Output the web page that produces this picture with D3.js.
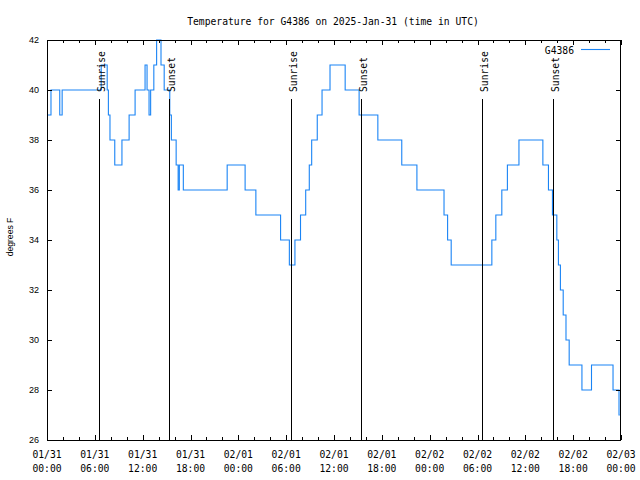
<!DOCTYPE html>
<html>
<head>
<meta charset="utf-8">
<script src="https://cdn.jsdelivr.net/npm/d3@7"></script>
<style>
  html, body { margin: 0; padding: 0; background: #fff; }
  svg { display: block; }
</style>
</head>
<body>
<svg id="chart" width="640" height="480"></svg>
<script>
// ---- Data (hours since 2025-01-31 00:00 UTC, temperature in °F) ----
const hours = [0.0, 0.5, 1.6, 1.9, 6.8, 7.55, 7.7, 7.9, 8.5, 9.4, 10.3, 11.05, 12.3, 12.55, 12.8, 13.0, 13.4, 13.75, 14.3, 14.7,
  15.4, 15.6, 16.2, 16.45, 16.6, 17.1, 22.6, 24.85, 26.2, 29.3, 30.4, 31.1, 31.8, 32.45, 32.9, 33.2, 33.9, 34.5, 35.5,
  37.4, 39.15, 41.5, 44.5, 46.4, 49.8, 50.25, 50.7, 55.8, 56.3, 57.05, 57.75, 59.2, 62.2, 62.9, 63.4, 63.95, 64.15,
  64.4, 64.75, 65.1, 65.5, 67.1, 68.3, 71.0, 71.75, 71.85];
const tempsF = [39, 40, 39, 40, 41, 40, 39, 38, 37, 38, 39, 40, 41, 40, 39, 40, 41, 42, 41, 40,
  39, 38, 37, 36, 37, 36, 37, 36, 35, 34, 33, 34, 35, 36, 37, 38, 39, 40, 41,
  40, 39, 38, 37, 36, 35, 34, 33, 34, 35, 36, 37, 38, 37, 36, 35, 34, 33,
  32, 31, 30, 29, 28, 29, 28, 27, 27];
const seriesName = "G4386";

// Sun events (hours since 2025-01-31 00:00 UTC)
const sunEventHours = [6.57, 15.35, 30.62, 39.4, 54.6, 63.45];
const sunEventLabels = ["Sunrise", "Sunset", "Sunrise", "Sunset", "Sunrise", "Sunset"];

const yTicks = [26, 28, 30, 32, 34, 36, 38, 40, 42];
const xTickHours = [0, 6, 12, 18, 24, 30, 36, 42, 48, 54, 60, 66, 72];
const xTickLine1 = ["01/31", "01/31", "01/31", "01/31", "02/01", "02/01", "02/01", "02/01", "02/02", "02/02", "02/02", "02/02", "02/03"];
const xTickLine2 = ["00:00", "06:00", "12:00", "18:00", "00:00", "06:00", "12:00", "18:00", "00:00", "06:00", "12:00", "18:00", "00:00"];
const minorTickHours = d3.range(0, 73, 2);

const titleText = "Temperature for G4386 on 2025-Jan-31 (time in UTC)";
const yLabel = "degrees F";

// ---- Layout ----
const mL = 47, mR = 621, mT = 40, mB = 440;
const t0 = Date.UTC(2025, 0, 31, 0, 0);
const toDate = h => new Date(t0 + h * 3600e3);

const x = d3.scaleUtc().domain([toDate(0), toDate(72)]).range([mL, mR]);
const y = d3.scaleLinear().domain([26, 42]).range([mB, mT]);

const svg = d3.select("#chart");
const mono = "'DejaVu Sans Mono', 'Liberation Mono', monospace";
const sans = "'Liberation Sans', Arial, sans-serif";

svg.append("rect").attr("width", 640).attr("height", 480).attr("fill", "#fff");

// Title
svg.append("text").attr("x", 333).attr("y", 24.5).attr("text-anchor", "middle")
  .attr("font-family", mono).attr("font-size", "9.7px").attr("fill", "#000").text(titleText);

// Y label
svg.append("text").attr("transform", "translate(12.5,237) rotate(-90)").attr("text-anchor", "middle")
  .attr("font-family", sans).attr("font-size", "8.6px").attr("fill", "#000").text(yLabel);

const data = hours.map((h, i) => ({ t: toDate(h), v: tempsF[i] }));

// Data line
svg.append("path").datum(data)
  .attr("fill", "none").attr("stroke", "#1a84f5").attr("stroke-width", 1.1)
  .attr("d", d3.line().x(d => x(d.t)).y(d => y(d.v)).curve(d3.curveStepAfter));

// Sun event lines and labels
const sun = svg.append("g");
sunEventHours.forEach((h, i) => {
  const xx = Math.round(x(toDate(h))) + 0.5;
  sun.append("line").attr("x1", xx).attr("x2", xx).attr("y1", 99).attr("y2", mB)
    .attr("stroke", "#000").attr("stroke-width", 1);
  sun.append("text").attr("transform", `translate(${xx + 5.5},92) rotate(-90)`)
    .attr("text-anchor", "start").attr("font-family", mono).attr("font-size", "9.7px")
    .attr("fill", "#000").text(sunEventLabels[i]);
});

// Frame
svg.append("rect").attr("x", mL + 0.5).attr("y", mT + 0.5)
  .attr("width", mR - mL - 1).attr("height", mB - mT)
  .attr("fill", "none").attr("stroke", "#000").attr("stroke-width", 1);

// X ticks (inward, mirrored)
const ticks = svg.append("g").attr("stroke", "#000").attr("stroke-width", 1);
minorTickHours.forEach(h => {
  const xx = Math.round(x(toDate(h))) + 0.5;
  const len = (h % 6 === 0) ? 5 : 3;
  ticks.append("line").attr("x1", xx).attr("x2", xx).attr("y1", mB).attr("y2", mB - len);
  ticks.append("line").attr("x1", xx).attr("x2", xx).attr("y1", mT).attr("y2", mT + len);
});
// Y ticks (inward, mirrored)
yTicks.forEach(v => {
  const yy = Math.round(y(v)) + 0.5;
  ticks.append("line").attr("x1", mL).attr("x2", mL + 5).attr("y1", yy).attr("y2", yy);
  ticks.append("line").attr("x1", mR - 5).attr("x2", mR).attr("y1", yy).attr("y2", yy);
});

// X tick labels
const xl = svg.append("g").attr("font-family", mono).attr("font-size", "9.7px").attr("fill", "#000").attr("text-anchor", "middle");
xTickHours.forEach((h, i) => {
  const xx = x(toDate(h));
  xl.append("text").attr("x", xx).attr("y", 457.5).text(xTickLine1[i]);
  xl.append("text").attr("x", xx).attr("y", 471.5).text(xTickLine2[i]);
});

// Y tick labels
const yl = svg.append("g").attr("font-family", sans).attr("font-size", "9px").attr("fill", "#000").attr("text-anchor", "end");
yTicks.forEach(v => {
  yl.append("text").attr("x", 39).attr("y", y(v) + 3.3).text(v);
});

// Legend
svg.append("text").attr("x", 574).attr("y", 53.5).attr("text-anchor", "end")
  .attr("font-family", mono).attr("font-size", "9.7px").attr("fill", "#000").text(seriesName);
svg.append("line").attr("x1", 581).attr("x2", 610).attr("y1", 49.5).attr("y2", 49.5)
  .attr("stroke", "#1a84f5").attr("stroke-width", 1.1);
</script>
</body>
</html>
